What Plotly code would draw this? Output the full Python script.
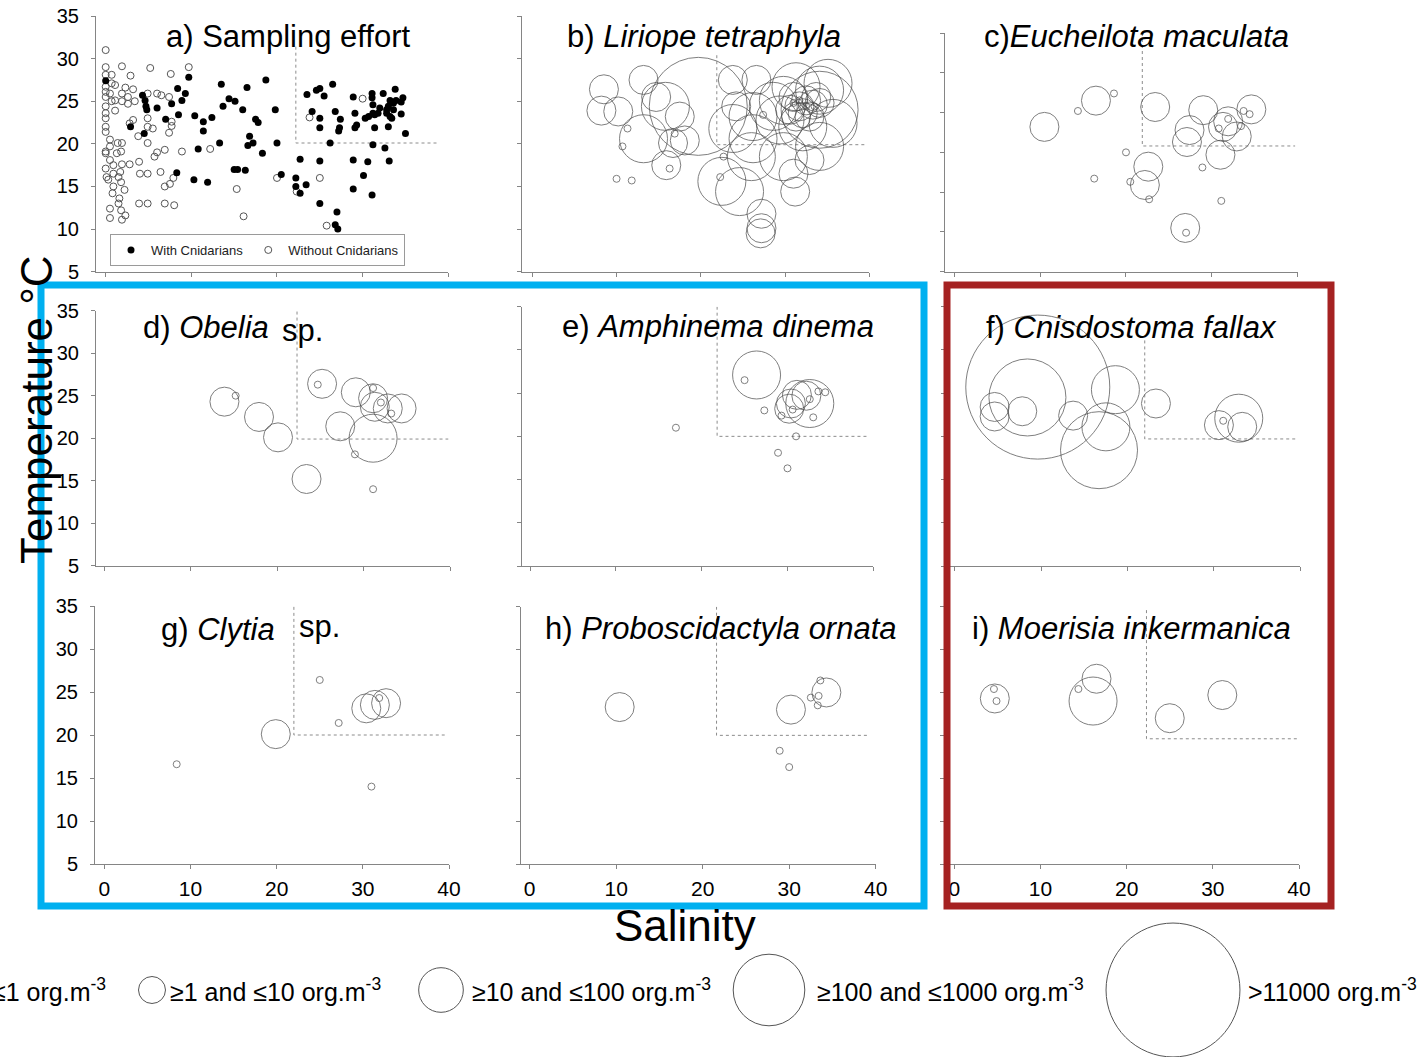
import plotly.graph_objects as go

W, H = 1420, 1057
FONT = "Liberation Sans, Arial, sans-serif"

# ---------------- data ----------------
# a) Sampling effort: stations with / without cnidarians (salinity, temperature)
a_with_sal = [0.0, 2.9, 4.3, 4.6, 4.7, 4.8, 6.0, 4.5, 7.0, 7.7,
              8.4, 8.5, 8.9, 9.3, 9.7, 8.3, 10.3, 10.4, 11.4, 11.4,
              10.8, 11.9, 12.4, 13.3, 13.5, 13.7, 14.4, 15.1, 15.0, 15.4,
              16.3, 16.0, 16.5, 16.8, 16.6, 17.2, 17.5, 17.8, 18.3, 18.7,
              19.8, 20.0, 20.5, 22.2, 22.2, 22.7, 23.4, 22.7, 23.5, 24.1,
              24.6, 25.0, 25.5, 25.0, 25.0, 25.0, 25.0, 26.5, 26.8, 27.4,
              27.3, 27.2, 26.2, 27.0, 26.8, 27.1, 28.9, 29.1, 29.1, 29.3,
              28.9, 28.9, 30.1, 30.6, 30.3, 30.7, 31.1, 31.1, 31.2, 31.2,
              31.4, 31.2, 31.1, 31.4, 31.8, 32.4, 32.0, 32.8, 33.0, 32.8,
              33.2, 33.2, 33.4, 33.0, 32.6, 33.1, 33.6, 33.6, 33.8, 33.9,
              34.5, 34.7, 34.5, 35.0]
a_with_temp = [27.4, 22.0, 25.7, 25.1, 24.4, 24.0, 24.2, 21.2, 22.9, 24.7,
               26.5, 23.4, 25.1, 25.9, 27.8, 16.6, 15.8, 23.3, 22.6, 21.5,
               19.4, 15.5, 23.1, 20.1, 27.0, 24.4, 25.3, 25.0, 17.0, 17.0,
               16.9, 24.0, 26.6, 20.9, 19.8, 20.1, 22.9, 22.5, 18.9, 27.5,
               24.0, 20.1, 16.4, 16.0, 15.0, 14.2, 15.2, 18.2, 25.8, 23.8,
               26.3, 26.5, 25.6, 23.0, 21.9, 18.0, 13.0, 27.0, 23.8, 22.9,
               21.9, 21.5, 20.1, 12.0, 10.5, 10.0, 25.5, 23.6, 21.9, 22.2,
               18.1, 14.7, 16.3, 17.9, 23.0, 23.2, 25.9, 25.4, 24.6, 23.6,
               21.9, 19.9, 14.0, 23.4, 23.6, 25.9, 24.2, 24.0, 24.4, 23.6,
               25.1, 23.2, 23.0, 22.0, 19.5, 18.0, 24.8, 24.0, 26.4, 25.1,
               24.9, 25.4, 23.5, 21.2]
a_without_sal = [0.0, 0.0, 0.0, 0.0, 0.0, 0.0, 0.0, 0.0, 0.0, 0.0,
                 0.0, 0.0, 0.0, 0.0, 0.1, 0.3, 0.5, 0.7, 0.7, 0.7,
                 0.5, 0.5, 0.5, 0.5, 0.5, 1.1, 1.1, 1.1, 0.9, 0.9,
                 0.9, 0.8, 1.3, 1.4, 1.5, 1.5, 1.6, 1.7, 1.8, 1.8,
                 1.9, 1.9, 1.8, 1.9, 1.9, 1.9, 1.9, 2.2, 2.3, 2.3,
                 2.6, 2.6, 2.8, 2.9, 2.8, 3.2, 3.2, 3.4, 3.8, 3.9,
                 4.0, 3.9, 4.9, 4.9, 4.9, 4.9, 4.9, 4.9, 5.2, 5.5,
                 5.7, 6.0, 6.0, 6.4, 6.5, 6.9, 6.9, 6.9, 7.5, 7.6,
                 7.4, 7.7, 7.7, 7.4, 7.9, 8.0, 8.9, 9.7, 12.2, 15.3,
                 16.1, 20.0, 22.3, 23.8, 25.0, 25.8, 30.0]
a_without_temp = [31.0, 29.0, 28.1, 26.7, 26.1, 25.5, 24.4, 23.6, 23.0, 22.0,
                  21.4, 19.1, 18.9, 17.1, 16.1, 15.8, 25.9, 27.1, 25.0, 28.1,
                  19.7, 20.5, 18.1, 12.4, 11.3, 26.9, 25.1, 23.9, 17.5, 16.5,
                  15.0, 14.2, 18.9, 20.1, 16.1, 13.0, 13.6, 16.7, 15.5, 19.1,
                  17.6, 20.1, 12.2, 29.1, 25.9, 25.0, 11.1, 14.6, 11.6, 26.6,
                  25.5, 24.7, 17.6, 28.0, 22.4, 22.8, 26.4, 25.0, 20.9, 17.9,
                  16.5, 13.0, 16.5, 13.0, 25.9, 23.0, 22.0, 20.1, 28.9, 21.8,
                  18.5, 25.9, 19.0, 16.7, 25.7, 19.3, 15.0, 13.0, 15.3, 28.2,
                  25.5, 22.6, 22.1, 21.3, 16.0, 12.8, 19.1, 29.0, 19.4, 14.7,
                  11.5, 16.0, 14.4, 23.1, 16.0, 10.4, 25.3]

# abundance classes: 1 <=1, 2 1-10, 3 10-100, 4 100-1000, 5 1000-11000, 6 >11000 org.m-3
b_sal = [8.5, 8.2, 10.2, 13.2, 11.3, 10.7, 10.0, 11.8, 13.2, 15.8,
         14.7, 17.5, 16.9, 16.7, 18.1, 16.3, 15.9, 19.7, 23.8, 26.6,
         24.2, 23.8, 26.2, 27.4, 22.7, 22.3, 22.5, 24.6, 26.0, 27.2,
         27.2, 27.1, 26.2, 29.8, 31.0, 31.2, 32.9, 34.1, 35.7, 31.3,
         34.1, 35.1, 29.8, 29.4, 32.1, 34.1, 31.0, 31.7, 32.5, 33.3,
         33.7, 30.6, 32.1, 32.9, 31.3, 34.1, 31.0, 32.5, 33.5, 31.7,
         28.6]
b_temp = [26.4, 23.9, 23.8, 27.5, 21.8, 19.7, 15.9, 15.7, 20.6, 24.4,
          25.5, 23.2, 21.2, 20.1, 20.4, 17.1, 17.5, 24.4, 27.5, 27.5,
          24.4, 21.8, 23.2, 23.4, 18.5, 16.1, 15.6, 14.4, 18.5, 11.8,
          10.1, 9.5, 20.6, 18.5, 16.5, 14.4, 18.1, 19.7, 22.4, 26.7,
          26.3, 27.1, 25.1, 22.8, 22.0, 24.0, 25.5, 24.4, 25.1, 24.6,
          25.5, 24.0, 23.6, 23.2, 23.2, 24.8, 24.8, 24.4, 24.4, 25.1,
          24.4]
b_cls = [2, 2, 2, 2, 1, 1, 1, 1, 3, 3,
         2, 2, 1, 2, 2, 1, 2, 5, 2, 2,
         2, 3, 3, 1, 1, 1, 3, 3, 3, 2,
         2, 2, 3, 3, 2, 2, 2, 3, 3, 3,
         3, 3, 3, 3, 3, 4, 2, 2, 2, 2,
         2, 2, 2, 2, 2, 2, 1, 1, 1, 1,
         3]

c_sal = [10.5, 16.5, 18.6, 14.4, 23.4, 20.0, 22.6, 22.2, 20.5, 16.3,
         22.7, 26.9, 27.0, 28.9, 31.1, 27.4, 27.1, 29.0, 31.0, 31.3,
         31.9, 32.9, 34.6, 31.9, 30.8, 33.4, 33.7, 34.4]
c_temp = [23.2, 26.5, 27.4, 25.2, 25.7, 20.0, 18.2, 15.9, 16.3, 16.7,
          14.1, 10.5, 9.9, 18.1, 13.9, 22.8, 21.3, 25.3, 19.7, 23.2,
          23.9, 22.0, 25.4, 24.2, 23.0, 23.3, 25.2, 24.8]
c_cls = [2, 2, 1, 1, 2, 1, 2, 2, 1, 1,
         1, 2, 1, 1, 1, 2, 2, 2, 2, 2,
         2, 2, 2, 1, 1, 1, 1, 1]

d_sal = [13.9, 15.2, 17.9, 20.1, 23.4, 25.2, 24.7, 27.3, 29.1, 29.0,
         31.1, 31.1, 31.1, 31.3, 31.1, 32.0, 32.8, 33.2, 34.4]
d_temp = [24.3, 25.0, 22.5, 20.1, 15.2, 26.4, 26.3, 21.4, 25.4, 18.1,
          14.0, 20.0, 24.7, 23.7, 25.9, 24.2, 23.5, 22.9, 23.5]
d_cls = [2, 1, 2, 2, 2, 2, 1, 2, 2, 1,
         1, 3, 2, 2, 1, 1, 2, 1, 2]

e_sal = [17.0, 26.4, 25.0, 27.3, 30.2, 30.6, 29.3, 31.0, 28.9, 30.0,
         32.6, 31.1, 32.2, 32.6, 33.6, 34.4, 33.0, 30.4]
e_temp = [21.0, 27.1, 26.5, 23.0, 23.2, 23.1, 22.4, 20.0, 18.1, 16.3,
          23.8, 24.8, 24.7, 24.3, 25.2, 25.1, 22.2, 23.8]
e_cls = [1, 3, 1, 1, 2, 1, 1, 1, 1, 1,
         3, 2, 2, 1, 1, 1, 1, 2]

f_sal = [9.6, 8.4, 4.6, 4.6, 7.8, 13.7, 18.6, 17.5, 16.7, 23.3,
         30.6, 32.9, 33.3, 31.1]
f_temp = [25.7, 24.5, 23.4, 22.3, 22.9, 22.4, 25.4, 21.1, 18.4, 23.8,
          21.3, 22.1, 21.1, 21.8]
f_cls = [6, 4, 2, 2, 2, 2, 3, 3, 4, 2,
         2, 3, 2, 1]

g_sal = [8.4, 19.9, 25.0, 27.2, 31.0, 30.4, 31.4, 32.7, 31.9]
g_temp = [16.6, 20.1, 26.4, 21.4, 14.0, 23.1, 23.5, 23.7, 24.3]
g_cls = [1, 2, 1, 1, 1, 2, 2, 2, 1]

h_sal = [10.4, 30.2, 34.3, 33.6, 33.4, 32.5, 33.3, 28.9, 30.0]
h_temp = [23.3, 23.0, 25.0, 26.4, 24.6, 24.4, 23.5, 18.2, 16.3]
h_cls = [2, 2, 2, 1, 1, 1, 1, 1, 1]

i_sal = [4.7, 4.6, 4.9, 16.5, 16.1, 14.4, 25.0, 31.1]
i_temp = [24.3, 25.4, 24.0, 26.6, 24.0, 25.4, 22.0, 24.7]
i_cls = [2, 1, 1, 2, 3, 1, 2, 2]

# reference thresholds (dotted lines): salinity, temperature, top of vertical, end of horizontal
thr_sal = {'a': 22.2, 'b': 21.9, 'c': 21.9, 'd': 22.3, 'e': 21.8, 'f': 22.0, 'g': 22.0, 'h': 21.6, 'i': 22.3}
thr_temp = {'a': 20.1, 'b': 19.9, 'c': 20.8, 'd': 19.9, 'e': 20.0, 'f': 19.7, 'g': 20.0, 'h': 20.0, 'i': 19.6}
thr_top = {'a': 31.4, 'b': 30.4, 'c': 35.0, 'd': 34.9, 'e': 35.0, 'f': 31.1, 'g': 34.9, 'h': 35.0, 'i': 34.6}
thr_end = {'a': 38.8, 'b': 39.7, 'c': 39.7, 'd': 39.8, 'e': 39.4, 'f': 39.6, 'g': 39.5, 'h': 39.3, 'i': 40.0}

x_ticks = [0, 10, 20, 30, 40]
y_ticks = [5, 10, 15, 20, 25, 30, 35]

legend_classes = [2, 3, 4, 6]
legend_labels = ["\u22651 and \u226410 org.m<sup>-3</sup>",
                 "\u226510 and \u2264100 org.m<sup>-3</sup>",
                 "\u2265100 and \u22641000 org.m<sup>-3</sup>",
                 ">11000 org.m<sup>-3</sup>"]
legend_first_label = "\u22641 org.m<sup>-3</sup>"

# ---------------- style / layout ----------------
size_px = {1: 7, 2: 29, 3: 48, 4: 77, 5: 98, 6: 144}
legend_scale = 0.93

panels = ['a', 'b', 'c', 'd', 'e', 'f', 'g', 'h', 'i']
panel_box = {  # left, right(=40), top(=35), bottom(=5) in px
    'a': (96, 448.3, 16, 271.7),
    'b': (521.7, 869.3, 16, 271.7),
    'c': (945, 1297.7, 33, 271.7),
    'd': (96, 450, 310.7, 565.7),
    'e': (521.7, 873.3, 306.7, 566),
    'f': (946, 1300, 306.7, 566),
    'g': (95, 449, 606, 864),
    'h': (520.7, 875.7, 606.7, 864),
    'i': (945, 1299, 606.7, 864),
}
x_min = {'a': -1.13, 'b': -1.26, 'c': -1.08, 'd': -0.96, 'e': -0.97,
         'f': -1.04, 'g': -1.08, 'h': -1.04, 'i': -1.08}

bubble_data = {
    'b': (b_sal, b_temp, b_cls), 'c': (c_sal, c_temp, c_cls),
    'd': (d_sal, d_temp, d_cls), 'e': (e_sal, e_temp, e_cls),
    'f': (f_sal, f_temp, f_cls), 'g': (g_sal, g_temp, g_cls),
    'h': (h_sal, h_temp, h_cls), 'i': (i_sal, i_temp, i_cls),
}

AXCOL = "#858585"
fig = go.Figure()
layout = {}
for n, p in enumerate(panels, start=1):
    sfx = '' if n == 1 else str(n)
    l, r, t, b = panel_box[p]
    show_y = p in ('a', 'd', 'g')
    show_x = p in ('g', 'h', 'i')
    layout['xaxis' + sfx] = dict(
        domain=[l / W, r / W], range=[x_min[p], 40], anchor='y' + sfx,
        showline=True, linecolor=AXCOL, linewidth=1, ticks='outside', ticklen=4,
        tickcolor=AXCOL, tickwidth=1, tickvals=x_ticks, showticklabels=show_x,
        showgrid=False, zeroline=False, ticklabelstandoff=2, automargin=False,
        tickfont=dict(family=FONT, size=21, color='black'))
    layout['yaxis' + sfx] = dict(
        domain=[1 - b / H, 1 - t / H], range=[5, 35], anchor='x' + sfx,
        showline=True, linecolor=AXCOL, linewidth=1, ticks='outside', ticklen=4,
        tickcolor=AXCOL, tickwidth=1, tickvals=y_ticks, showticklabels=show_y,
        showgrid=False, zeroline=False, ticklabelstandoff=8, automargin=False,
        tickfont=dict(family=FONT, size=20, color='black'))

    # dotted reference lines
    fig.add_trace(go.Scatter(
        x=[thr_sal[p], thr_sal[p], thr_end[p]],
        y=[thr_top[p], thr_temp[p], thr_temp[p]],
        mode='lines', line=dict(color='#8c8c8c', width=1, dash='dot'),
        xaxis='x' + sfx, yaxis='y' + sfx, showlegend=False, hoverinfo='skip'))

    if p == 'a':
        fig.add_trace(go.Scatter(
            x=a_without_sal, y=a_without_temp, mode='markers', name='Without Cnidarians',
            marker=dict(size=7, color='rgba(0,0,0,0)', line=dict(color='#555555', width=1)),
            xaxis='x', yaxis='y', cliponaxis=False, legendrank=2))
        fig.add_trace(go.Scatter(
            x=a_with_sal, y=a_with_temp, mode='markers', name='With Cnidarians',
            marker=dict(size=7, color='black', line=dict(width=0)),
            xaxis='x', yaxis='y', cliponaxis=False, legendrank=1))
    else:
        sal, temp, cls = bubble_data[p]
        fig.add_trace(go.Scatter(
            x=sal, y=temp, mode='markers',
            marker=dict(size=[size_px[c] for c in cls], color='rgba(0,0,0,0)',
                        line=dict(color='#4a4a4a', width=1)),
            xaxis='x' + sfx, yaxis='y' + sfx, showlegend=False,
            cliponaxis=False, hoverinfo='skip'))

# ---------------- annotations ----------------
ann = []
titles = [  # text, left px, center y px
    ("a) Sampling effort", 164, 36),
    ("b) <i>Liriope tetraphyla</i>", 565, 36),
    ("c)<i>Eucheilota maculata</i>", 982, 36),
    ("d) <i>Obelia</i>", 141, 327),
    ("sp.", 280, 330),
    ("e) <i>Amphinema dinema</i>", 560, 326),
    ("f) <i>Cnisdostoma fallax</i>", 984, 327),
    ("g) <i>Clytia</i>", 159, 629),
    ("sp.", 297, 626),
    ("h) <i>Proboscidactyla ornata</i>", 543, 628),
    ("i) <i>Moerisia inkermanica</i>", 970, 628),
]
for txt, xl, yc in titles:
    ann.append(dict(text=txt, x=xl / W, y=1 - yc / H, xref='paper', yref='paper',
                    xanchor='left', yanchor='middle', showarrow=False,
                    font=dict(family=FONT, size=31, color='black')))

ann.append(dict(text="Temperature \u00b0C", x=36 / W, y=1 - 410 / H, xref='paper', yref='paper',
                textangle=-90, showarrow=False, xanchor='center', yanchor='middle',
                font=dict(family=FONT, size=44, color='black')))
ann.append(dict(text="Salinity", x=685 / W, y=1 - 925 / H, xref='paper', yref='paper',
                showarrow=False, xanchor='center', yanchor='middle',
                font=dict(family=FONT, size=44, color='black')))

# bubble-size legend
LEG_Y = 990
ann.append(dict(text=legend_first_label, x=108 / W, y=1 - LEG_Y / H, xref='paper', yref='paper',
                showarrow=False, xanchor='right', yanchor='middle',
                font=dict(family=FONT, size=25, color='black')))
circle_cx = [152, 441, 769, 1173]
text_left = [168, 470, 815, 1246]
shapes = []
for cls, lab, cx, tl in zip(legend_classes, legend_labels, circle_cx, text_left):
    d = size_px[cls] * legend_scale
    shapes.append(dict(type='circle', xref='paper', yref='paper',
                       x0=(cx - d / 2) / W, x1=(cx + d / 2) / W,
                       y0=1 - (LEG_Y + d / 2) / H, y1=1 - (LEG_Y - d / 2) / H,
                       line=dict(color='#555555', width=1)))
    ann.append(dict(text=lab, x=tl / W, y=1 - LEG_Y / H, xref='paper', yref='paper',
                    showarrow=False, xanchor='left', yanchor='middle',
                    font=dict(family=FONT, size=25, color='black')))

# highlight boxes
shapes.append(dict(type='rect', xref='paper', yref='paper', layer='above',
                   x0=41 / W, x1=924 / W, y0=1 - 906 / H, y1=1 - 285 / H,
                   line=dict(color='#00B0F0', width=7)))
shapes.append(dict(type='rect', xref='paper', yref='paper', layer='above',
                   x0=947 / W, x1=1331 / W, y0=1 - 906 / H, y1=1 - 285 / H,
                   line=dict(color='#A52222', width=7)))

fig.update_layout(
    width=W, height=H, margin=dict(l=0, r=0, t=0, b=0, autoexpand=False),
    paper_bgcolor='white', plot_bgcolor='white',
    font=dict(family=FONT, color='black'),
    annotations=ann, shapes=shapes,
    legend=dict(x=110 / W, y=1 - 234 / H, xanchor='left', yanchor='top',
                orientation='h', bgcolor='white', bordercolor='#9a9a9a', borderwidth=1,
                font=dict(family=FONT, size=13, color='#222222'), itemwidth=30,
                tracegroupgap=0),
    **layout)

# remove the browser's default 8px page margin so the figure sits at the window origin
fig.write_html("out.html", config={'displayModeBar': False},
               post_script="document.body.style.margin='0px';document.body.style.overflow='hidden';")
